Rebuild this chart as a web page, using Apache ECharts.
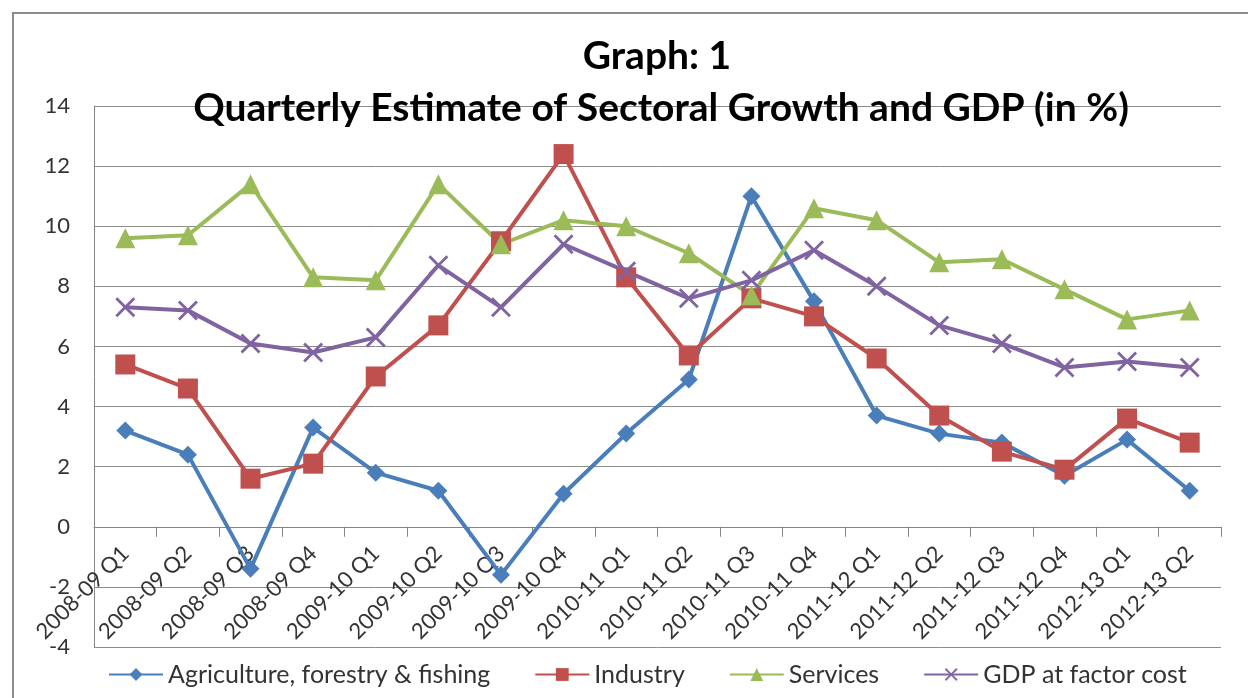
<!DOCTYPE html>
<html>
<head>
<meta charset="utf-8">
<script src="https://cdn.jsdelivr.net/npm/echarts@6/dist/echarts.min.js"></script>
<style>
  html, body { margin: 0; padding: 0; background: #fff; }
  #frame { position: absolute; left: 12px; top: 12px; width: 1260px; height: 720px; border: 2px solid #8c8c8c; box-sizing: border-box; }
  #main { position: absolute; left: 0; top: 0; width: 1248px; height: 698px; }
</style>
</head>
<body>
<div id="frame"></div>
<div id="main"></div>
<script>
var quarters = ['2008-09 Q1', '2008-09 Q2', '2008-09 Q3', '2008-09 Q4', '2009-10 Q1', '2009-10 Q2', '2009-10 Q3', '2009-10 Q4',
  '2010-11 Q1', '2010-11 Q2', '2010-11 Q3', '2010-11 Q4', '2011-12 Q1', '2011-12 Q2', '2011-12 Q3', '2011-12 Q4',
  '2012-13 Q1', '2012-13 Q2']
var agriculture = [3.2, 2.4, -1.4, 3.3, 1.8, 1.2, -1.6, 1.1, 3.1, 4.9, 11.0, 7.5, 3.7, 3.1, 2.8, 1.7, 2.9, 1.2]
var industry = [5.4, 4.6, 1.6, 2.1, 5.0, 6.7, 9.5, 12.4, 8.3, 5.7, 7.6, 7.0, 5.6, 3.7, 2.5, 1.9, 3.6, 2.8]
var services = [9.6, 9.7, 11.4, 8.3, 8.2, 11.4, 9.4, 10.2, 10.0, 9.1, 7.7, 10.6, 10.2, 8.8, 8.9, 7.9, 6.9, 7.2]
var gdp = [7.3, 7.2, 6.1, 5.8, 6.3, 8.7, 7.3, 9.4, 8.5, 7.6, 8.2, 9.2, 8.0, 6.7, 6.1, 5.3, 5.5, 5.3]

var font = 'Lato, "Open Sans", sans-serif'
var crossPath = 'path://M0,1L1,0L5,4L9,0L10,1L6,5L10,9L9,10L5,6L1,10L0,9L4,5Z'

var myChart = echarts.init(document.querySelector('#main'))

function line (name, data, color, symbol, size) {
  return {
    name: name,
    type: 'line',
    data: data,
    symbol: symbol,
    symbolSize: size,
    showAllSymbol: true,
    lineStyle: { color: color, width: 4 },
    itemStyle: { color: color },
    animation: false
  }
}

var option = {
  textStyle: { fontFamily: font },
  title: [
    {
      text: 'Graph: 1',
      left: 652,
      textAlign: 'center',
      top: 32,
      textStyle: { fontFamily: font, fontSize: 39, fontWeight: 'bold', color: '#000' }
    },
    {
      text: 'Quarterly Estimate of Sectoral Growth and GDP (in %)',
      left: 656,
      textAlign: 'center',
      top: 84,
      textStyle: { fontFamily: font, fontSize: 39, fontWeight: 'bold', color: '#000' }
    }
  ],
  legend: {
    bottom: 6,
    left: 103,
    itemWidth: 54,
    itemHeight: 16,
    itemGap: 44,
    textStyle: { fontFamily: font, fontSize: 25, color: '#333' },
    data: ['Agriculture, forestry & fishing', 'Industry', 'Services', 'GDP at factor cost']
  },
  grid: { left: 94, right: 27, top: 106, bottom: 51, containLabel: false, outerBoundsMode: 'none' },
  xAxis: {
    type: 'category',
    data: quarters,
    boundaryGap: true,
    axisLine: { onZero: true, lineStyle: { color: '#868686', width: 1 } },
    axisTick: { show: true, alignWithLabel: false, length: 10, lineStyle: { color: '#868686' } },
    axisLabel: { rotate: 45, margin: -97, fontSize: 22, color: '#333', fontFamily: font, interval: 0 }
  },
  yAxis: {
    type: 'value',
    min: -4,
    max: 14,
    interval: 2,
    axisLine: { show: true, lineStyle: { color: '#868686', width: 1 } },
    axisTick: { show: false },
    axisLabel: { fontSize: 22, color: '#333', fontFamily: font, margin: 24 },
    splitLine: { lineStyle: { color: '#8c8c8c', width: 1 } }
  },
  series: [
    line('Agriculture, forestry & fishing', agriculture, '#4a7ebb', 'diamond', 18),
    line('Industry', industry, '#c0504d', 'rect', 20),
    line('Services', services, '#9bbb59', 'triangle', 20),
    line('GDP at factor cost', gdp, '#8064a2', crossPath, 20)
  ]
}

myChart.setOption(option)
</script>
</body>
</html>
